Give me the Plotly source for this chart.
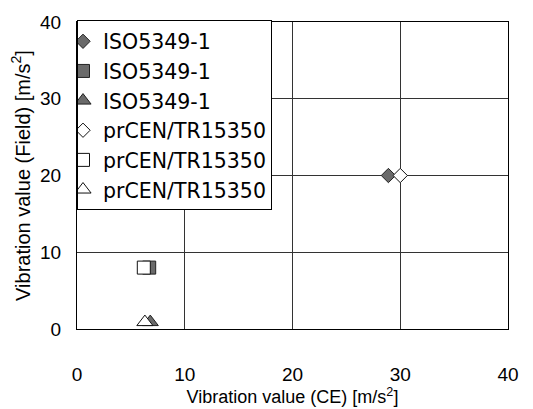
import plotly.graph_objects as go

# Data
categories = ["diamond", "square", "triangle"]
iso_name = "ISO5349-1"
cen_name = "prCEN/TR15350"
iso_x = [28.9, 6.7, 6.8]
iso_y = [20.0, 8.0, 0.9]
cen_x = [30.0, 6.2, 6.3]
cen_y = [20.0, 8.0, 0.9]
x_ticks = [0, 10, 20, 30, 40]
y_ticks = [0, 10, 20, 30, 40]

FONT = "Liberation Sans, Arial, sans-serif"
LEG_FONT = "DejaVu Sans, Liberation Sans, sans-serif"
symbols = {"diamond": ("diamond", 11), "square": ("square", 13), "triangle": ("triangle-up", 14)}

fig = go.Figure()
for i, cat in enumerate(categories):
    sym, sz = symbols[cat]
    fig.add_trace(go.Scatter(
        x=[iso_x[i]], y=[iso_y[i]], mode="markers", name=iso_name,
        marker=dict(symbol=sym, size=sz, color="#6a6a6a",
                    line=dict(color="#222222", width=1)),
    ))
for i, cat in enumerate(categories):
    sym, sz = symbols[cat]
    fig.add_trace(go.Scatter(
        x=[cen_x[i]], y=[cen_y[i]], mode="markers", name=cen_name,
        marker=dict(symbol=sym, size=sz, color="white",
                    line=dict(color="#111111", width=1)),
    ))

axis_common = dict(
    range=[0, 40], showline=True, mirror=True, linecolor="black", linewidth=1,
    showgrid=True, gridcolor="#333333", gridwidth=1, zeroline=False,
    ticks="", tickfont=dict(family=FONT, size=19, color="black"),
    tickmode="array",
)

fig.update_layout(
    width=533, height=409,
    margin=dict(l=77, r=25, t=22, b=69),
    paper_bgcolor="white", plot_bgcolor="white",
    font=dict(family=FONT, color="black"),
    xaxis=dict(**axis_common, tickvals=x_ticks, ticklabelstandoff=28,
               title=dict(text="Vibration value (CE) [m/s<sup>2</sup>]",
                          font=dict(family=FONT, size=18), standoff=0)),
    yaxis=dict(**axis_common, tickvals=y_ticks, ticklabelstandoff=11,
               title=dict(text="Vibration value (Field) [m/s<sup>2</sup>]",
                          font=dict(family=FONT, size=20), standoff=4)),
    legend=dict(x=0, y=1.005, xanchor="left", yanchor="top",
                bgcolor="white", bordercolor="black", borderwidth=1,
                font=dict(family=LEG_FONT, size=20.5, color="black"),
                indentation=-15, tracegroupgap=0),
    showlegend=True,
)

fig.write_html("out.html")
